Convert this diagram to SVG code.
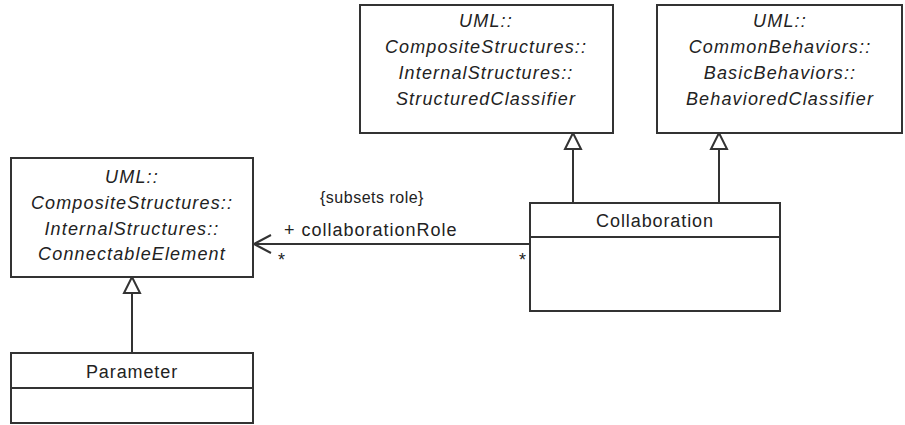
<svg xmlns="http://www.w3.org/2000/svg" width="905" height="425" viewBox="0 0 905 425">
  <style>
    .box { fill: #ffffff; stroke: #333333; stroke-width: 2; }
    .div { stroke: #333333; stroke-width: 2; }
    .line { stroke: #333333; stroke-width: 2; fill: none; }
    .tri { fill: #ffffff; stroke: #333333; stroke-width: 2; stroke-linejoin: miter; }
    text { font-family: "Liberation Sans", Arial, sans-serif; font-size: 18px; fill: #222222; }
    .it { font-style: italic; letter-spacing: 1.15px; text-anchor: middle; }
    .reg { letter-spacing: 0.9px; text-anchor: middle; }
    .lbl { letter-spacing: 1px; }
    .small { font-size: 16px; letter-spacing: 0.5px; }
  </style>
  <rect width="905" height="425" fill="#ffffff"/>

  <g id="connectors">
    <!-- Parameter -> ConnectableElement -->
    <line class="line" x1="132" y1="293" x2="132" y2="353"/>
    <polygon class="tri" points="132,277 124,293 140,293"/>
    <!-- Collaboration -> StructuredClassifier -->
    <line class="line" x1="573" y1="149" x2="573" y2="203"/>
    <polygon class="tri" points="573,133 565,149 581,149"/>
    <!-- Collaboration -> BehavioredClassifier -->
    <line class="line" x1="719" y1="149" x2="719" y2="203"/>
    <polygon class="tri" points="719,133 711,149 727,149"/>
    <!-- association -->
    <line class="line" x1="254" y1="244" x2="530" y2="244"/>
    <polyline class="line" points="271,235 254,244 271,253"/>
    <text class="small" x="320" y="203">{subsets role}</text>
    <text class="lbl" x="284" y="236">+ collaborationRole</text>
    <text x="278" y="266">*</text>
    <text x="519" y="266">*</text>
  </g>

  <g id="ConnectableElement">
    <rect class="box" x="11" y="158" width="242" height="119"/>
    <text class="it" x="132" y="183">UML::</text>
    <text class="it" x="132" y="209">CompositeStructures::</text>
    <text class="it" x="132" y="235">InternalStructures::</text>
    <text class="it" x="132" y="260">ConnectableElement</text>
  </g>

  <g id="StructuredClassifier">
    <rect class="box" x="360" y="5" width="253" height="128"/>
    <text class="it" x="486" y="27">UML::</text>
    <text class="it" x="486" y="53">CompositeStructures::</text>
    <text class="it" x="486" y="79">InternalStructures::</text>
    <text class="it" x="486" y="105">StructuredClassifier</text>
  </g>

  <g id="BehavioredClassifier">
    <rect class="box" x="657" y="5" width="245" height="128"/>
    <text class="it" x="780" y="27">UML::</text>
    <text class="it" x="780" y="53">CommonBehaviors::</text>
    <text class="it" x="780" y="79">BasicBehaviors::</text>
    <text class="it" x="780" y="105">BehavioredClassifier</text>
  </g>

  <g id="Collaboration">
    <rect class="box" x="530" y="203" width="250" height="108"/>
    <line class="div" x1="530" y1="237" x2="780" y2="237"/>
    <text class="reg" x="655" y="227">Collaboration</text>
  </g>

  <g id="Parameter">
    <rect class="box" x="11" y="353" width="242" height="70"/>
    <line class="div" x1="11" y1="388" x2="253" y2="388"/>
    <text class="reg" x="132" y="378">Parameter</text>
  </g>
</svg>
